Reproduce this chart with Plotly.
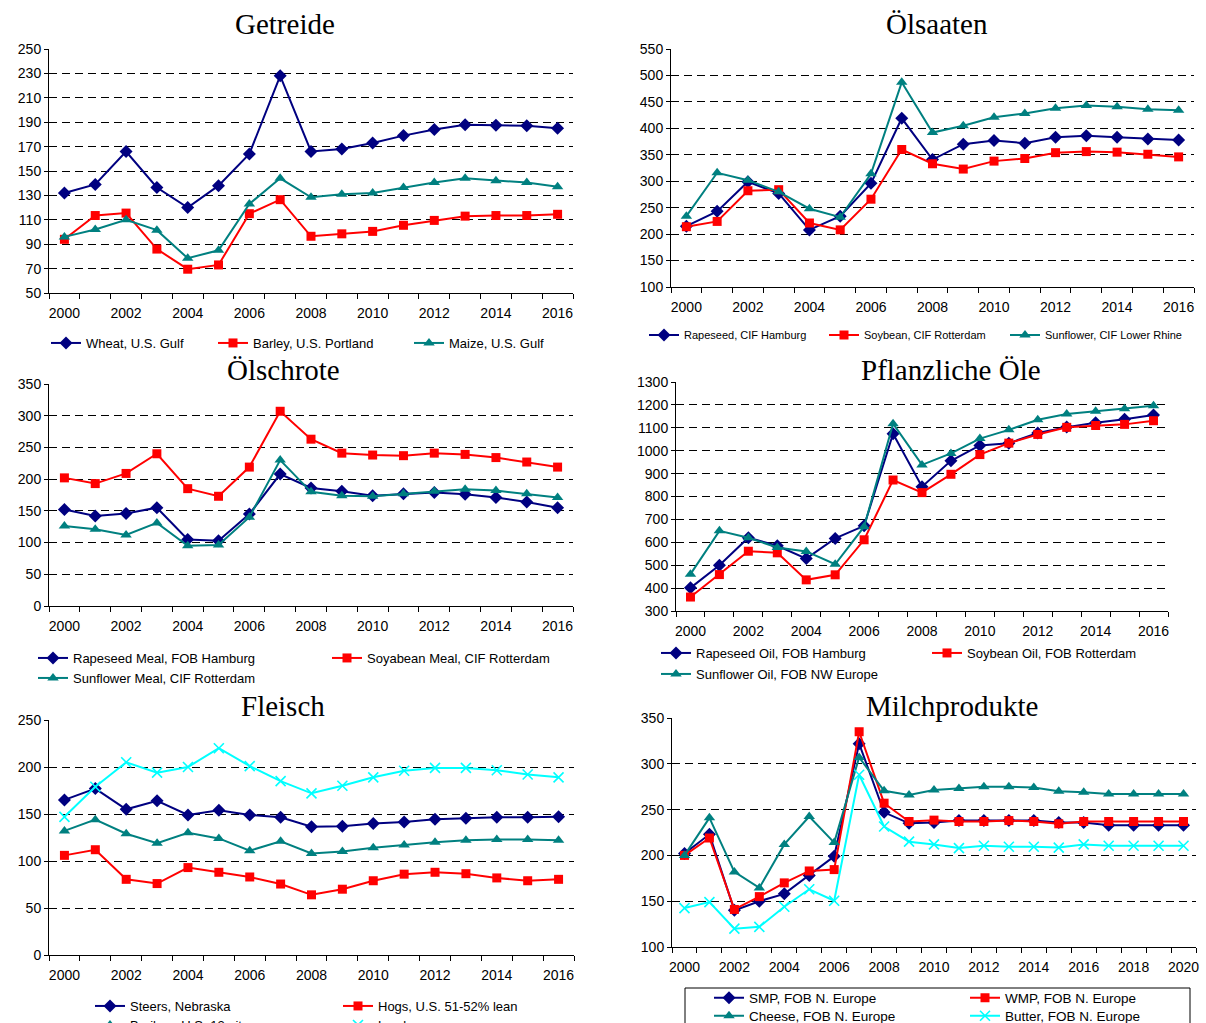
import plotly.graph_objects as go

W, H = 1206, 1023

# ---------------- data ----------------
years17 = [str(y) for y in range(2000, 2017)]
years21 = [str(y) for y in range(2000, 2021)]

# Getreide
wheat = [132, 139, 166, 136.5, 120, 138, 164, 228, 166, 168, 173, 179, 184, 188, 187.5, 187, 185]
barley = [94, 113.5, 115.5, 86, 69.5, 73, 115, 126.5, 96.5, 98.5, 100.5, 105.5, 109.5, 113, 113.5, 113.5, 114.5]
maize = [96, 102, 110, 101.5, 78.5, 85, 123, 144, 128.5, 131, 132, 136.5, 140.5, 144, 142, 140.5, 137]

# Ölsaaten
rapeseed = [215, 243, 299, 277, 208, 234, 296, 419, 341, 370, 377, 372, 383, 386, 383, 380, 378]
soybean = [214, 224, 282, 284, 221, 208, 266, 360, 333, 323, 338, 343, 354, 356, 355, 351, 346]
sunflower = [234, 316, 302, 280, 248, 232, 314, 487, 392, 405, 421, 428, 438, 443, 441, 436, 434]

# Ölschrote
rapeseed_meal = [152, 142, 146, 155, 105, 103, 145, 208, 186, 181, 174, 177, 179, 176, 171, 164, 155]
soyabean_meal = [202, 193, 209, 240, 185, 173, 219, 307, 263, 241, 238, 237, 241, 239, 234, 227, 219]
sunflower_meal = [126, 121, 112, 131, 95, 96, 140, 230, 180, 174, 173, 177, 181, 184, 182, 177, 171]

# Pflanzliche Öle
rapeseed_oil = [401, 500, 620, 585, 529, 617, 672, 1074, 843, 956, 1023, 1033, 1077, 1103, 1122, 1137, 1156]
soybean_oil = [361, 459, 561, 554, 436, 458, 611, 872, 817, 897, 983, 1033, 1071, 1102, 1110, 1115, 1131]
sunflower_oil = [461, 650, 620, 577, 560, 504, 668, 1118, 938, 988, 1053, 1091, 1135, 1160, 1172, 1183, 1196]

# Fleisch
steers = [165, 177, 155, 164, 149, 154, 149, 146.5, 136.5, 137, 140, 141.5, 144.5, 145.5, 146.5, 146.5, 147]
hogs = [106, 112, 80.5, 76, 93, 88, 83, 75.5, 64, 70, 79, 86, 88, 86.5, 82, 79, 80.5]
broilers = [132, 144, 129, 119, 130, 124, 111, 121, 108, 110, 114, 117, 120, 122, 123, 123, 122]
lamb = [147, 179, 205, 194, 200, 220, 201, 185, 172, 180, 189, 196, 199, 199, 196.5, 192, 189]

# Milchprodukte
smp = [202, 223, 140, 150, 158, 178, 199, 322, 247, 235, 236, 238, 238, 238, 238, 236, 236, 233, 233, 233, 233]
wmp = [200, 219, 141, 155, 170, 183, 184.5, 335, 257, 237, 238.5, 237, 237, 238, 237, 234.5, 237, 237, 237, 237, 237]
cheese = [200, 241, 182, 164.5, 212, 242.5, 214, 307, 270.5, 266, 271.5, 273, 275, 275, 274, 270, 269, 267, 267, 267, 267]
butter = [142.5, 149, 120, 122, 144, 163, 150.5, 288, 231.5, 215, 212, 208, 210.5, 209.5, 209.5, 208.5, 212, 210.5, 210.5, 210.5, 210.5]

titles = ["Getreide", "Ölsaaten", "Ölschrote", "Pflanzliche Öle", "Fleisch", "Milchprodukte"]

# ---------------- styles ----------------
NAVY, RED, TEAL, CYAN = "#000080", "#FF0000", "#008080", "#00FFFF"
MARK = {
    NAVY: dict(symbol="diamond", size=10, color=NAVY),
    RED: dict(symbol="square", size=9, color=RED),
    TEAL: dict(symbol="triangle-up", size=10, color=TEAL),
    CYAN: dict(symbol="x-thin", size=10, color=CYAN, line=dict(width=1.6, color=CYAN)),
}

SANS = "Liberation Sans, Arial, sans-serif"
SERIF = "Liberation Serif, Times New Roman, serif"

panels = [
    dict(years=years17, series=[("Wheat, U.S. Gulf", wheat, NAVY), ("Barley, U.S. Portland", barley, RED),
                                ("Maize, U.S. Gulf", maize, TEAL)],
         px=(49, 573, 49, 293), yr=(50, 250), dt=20, tc=(285, 24),
         leg=[(52, 343), (219, 343), (415, 343)], lfs=13),
    dict(years=years17, series=[("Rapeseed, CIF Hamburg", rapeseed, NAVY), ("Soybean, CIF Rotterdam", soybean, RED),
                                ("Sunflower, CIF Lower Rhine", sunflower, TEAL)],
         px=(671, 1194, 49, 287), yr=(100, 550), dt=50, tc=(937, 24),
         leg=[(650, 335), (830, 335), (1011, 335)], lfs=11),
    dict(years=years17, series=[("Rapeseed Meal, FOB Hamburg", rapeseed_meal, NAVY),
                                ("Soyabean Meal, CIF Rotterdam", soyabean_meal, RED),
                                ("Sunflower Meal, CIF Rotterdam", sunflower_meal, TEAL)],
         px=(49, 573, 384, 606), yr=(0, 350), dt=50, tc=(283, 370),
         leg=[(39, 658), (333, 658), (39, 678)], lfs=13),
    dict(years=years17, series=[("Rapeseed Oil, FOB Hamburg", rapeseed_oil, NAVY),
                                ("Soybean Oil, FOB Rotterdam", soybean_oil, RED),
                                ("Sunflower Oil, FOB NW Europe", sunflower_oil, TEAL)],
         px=(676, 1168, 382, 611), yr=(300, 1300), dt=100, tc=(951, 370),
         leg=[(662, 653), (933, 653), (662, 674)], lfs=13),
    dict(years=years17, series=[("Steers, Nebraska", steers, NAVY), ("Hogs, U.S. 51-52% lean", hogs, RED),
                                ("Broilers, U.S. 12-city", broilers, TEAL), ("Lamb", lamb, CYAN)],
         px=(49, 574, 720, 955), yr=(0, 250), dt=50, tc=(283, 706),
         leg=[(96, 1006), (344, 1006), (96, 1025), (344, 1025)], lfs=13),
    dict(years=years21, series=[("SMP, FOB N. Europe", smp, NAVY), ("WMP, FOB N. Europe", wmp, RED),
                                ("Cheese, FOB N. Europe", cheese, TEAL), ("Butter, FOB N. Europe", butter, CYAN)],
         px=(672, 1196, 718, 947), yr=(100, 350), dt=50, tc=(952, 706),
         leg=[(715, 998), (971, 998), (715, 1016), (971, 1016)], lfs=13.5),
]

fig = go.Figure()
layout = dict(width=W, height=H, margin=dict(l=0, r=0, t=0, b=0, autoexpand=False),
              paper_bgcolor="white", plot_bgcolor="white", showlegend=True,
              annotations=[], shapes=[])

leg_idx = 0
for i, p in enumerate(panels):
    n = i + 1
    xa = "x" if n == 1 else f"x{n}"
    ya = "y" if n == 1 else f"y{n}"
    xl, xr, yt, yb = p["px"]
    yrs = p["years"]
    for (name, vals, col), (lx, ly) in zip(p["series"], p["leg"]):
        leg_idx += 1
        lname = "legend" if leg_idx == 1 else f"legend{leg_idx}"
        fig.add_trace(go.Scatter(
            x=yrs, y=vals, name=name, mode="lines+markers",
            line=dict(color=col, width=2), marker=MARK[col],
            xaxis=xa, yaxis=ya, legend=lname, showlegend=True))
        layout[lname] = dict(
            x=(lx - 6) / W, y=1 - ly / H, xanchor="left", yanchor="middle",
            orientation="h", bgcolor="rgba(0,0,0,0)", borderwidth=0, itemwidth=30,
            font=dict(family=SANS, size=p["lfs"], color="black"))
    xkey = "xaxis" if n == 1 else f"xaxis{n}"
    ykey = "yaxis" if n == 1 else f"yaxis{n}"
    layout[xkey] = dict(
        type="category", domain=[xl / W, xr / W], anchor=ya,
        range=[-0.5, len(yrs) - 0.5], tickmode="array", tickvals=yrs,
        ticktext=[y if int(y) % 2 == 0 else "" for y in yrs], tickangle=0,
        tickson="boundaries", ticks="outside", ticklen=5, tickcolor="black",
        ticklabelstandoff=7,
        showline=True, linecolor="black", linewidth=1, showgrid=False,
        tickfont=dict(family=SANS, size=14, color="black"), fixedrange=True)
    layout[ykey] = dict(
        domain=[1 - yb / H, 1 - yt / H], anchor=xa, range=list(p["yr"]),
        tick0=p["yr"][0], dtick=p["dt"], showgrid=True, gridcolor="black",
        gridwidth=1, griddash="8px,5px", zeroline=False, showline=True,
        linecolor="black", linewidth=1, ticks="outside", ticklen=4, tickcolor="black",
        tickfont=dict(family=SANS, size=14, color="black"), fixedrange=True)
    layout["annotations"].append(dict(
        text=titles[i], xref="paper", yref="paper", x=p["tc"][0] / W, y=1 - p["tc"][1] / H,
        xanchor="center", yanchor="middle", showarrow=False,
        font=dict(family=SERIF, size=29, color="black")))

# legend frame of the dairy panel
layout["shapes"].append(dict(type="rect", xref="paper", yref="paper",
                             x0=685 / W, x1=1190 / W, y0=-0.05, y1=1 - 988 / H,
                             line=dict(color="black", width=1), fillcolor="rgba(0,0,0,0)"))

fig.update_layout(**layout)
fig.write_html("out.html", config={"displayModeBar": False},
               post_script="document.body.style.margin='0';")
